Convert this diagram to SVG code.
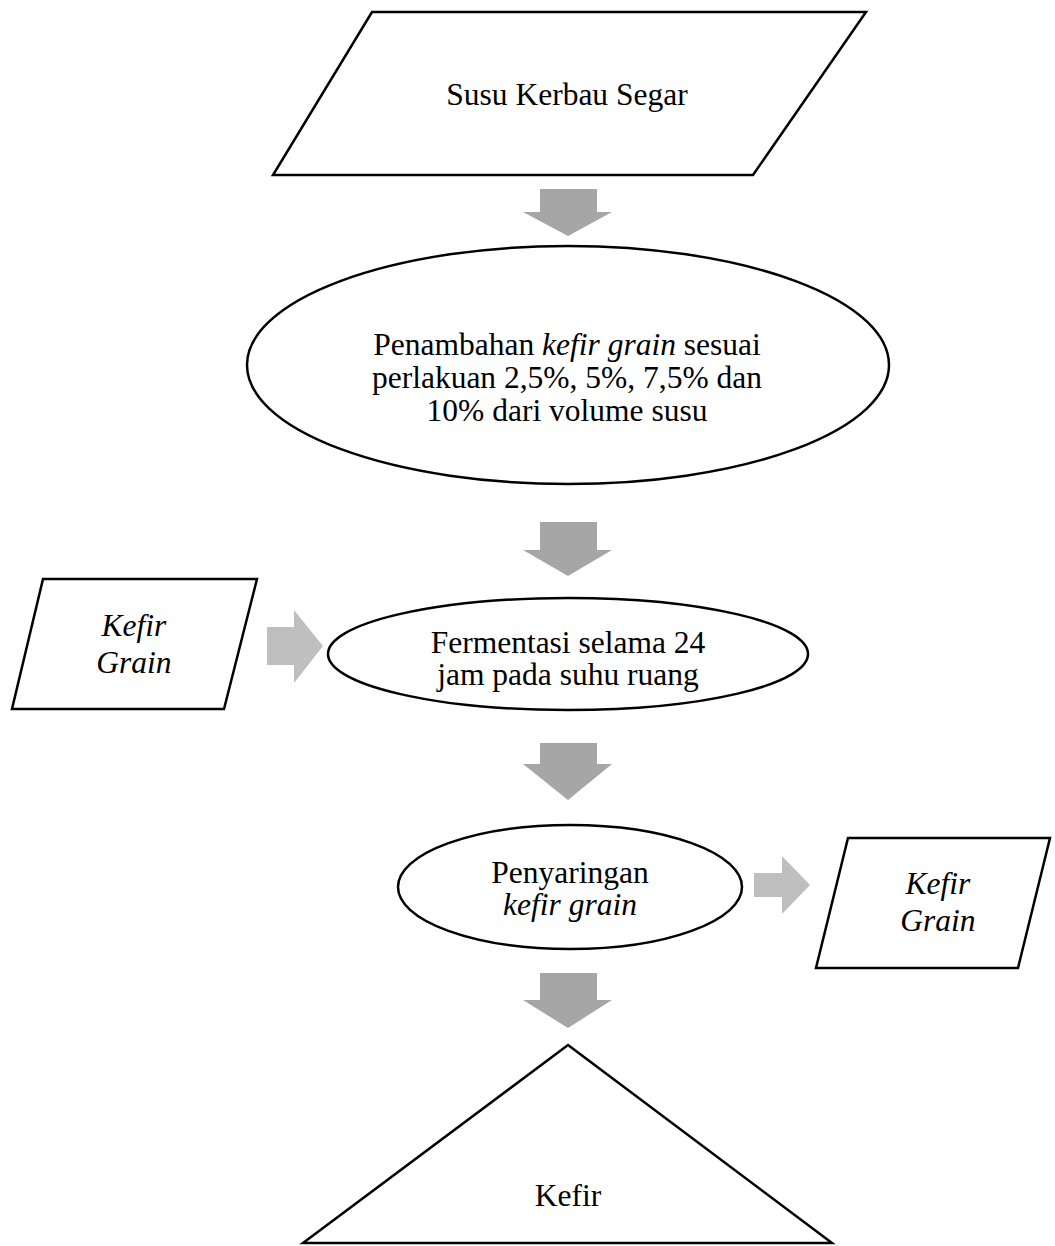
<svg xmlns="http://www.w3.org/2000/svg" width="1055" height="1246" viewBox="0 0 1055 1246">
<style>
.shape{fill:#fff;stroke:#000;stroke-width:2.5}
.t{font-family:"Liberation Serif","Times New Roman",serif;font-size:31.5px;fill:#000;text-anchor:middle}
.i{font-style:italic}
.dark{fill:#a6a6a6}
.light{fill:#bfbfbf}
</style>
<rect width="1055" height="1246" fill="#fff"/>
<g id="connectors">
<polygon class="dark" points="540,189 597,189 597,212 612,212 568,236 523,212 540,212"/>
<polygon class="dark" points="540,522 597,522 597,550 612,550 568,576 523,550 540,550"/>
<polygon class="dark" points="540,743 597,743 597,764 612,764 568,800 523,764 540,764"/>
<polygon class="dark" points="540,973 597,973 597,1000 612,1000 568,1028 523,1000 540,1000"/>
<polygon class="light" points="267,627 294,627 294,610 323,646 294,683 294,665 267,665"/>
<polygon class="light" points="754,873 782,873 782,856 810,885 782,914 782,897 754,897"/>
</g>
<g id="node-susu">
<polygon class="shape" points="372,12 866,12 753,175 273,175"/>
<text class="t" x="567" y="105">Susu Kerbau Segar</text>
</g>
<g id="node-penambahan">
<ellipse class="shape" cx="568" cy="365" rx="321" ry="119"/>
<text class="t" x="567" y="355">Penambahan <tspan class="i">kefir grain</tspan> sesuai</text>
<text class="t" x="567" y="388">perlakuan 2,5%, 5%, 7,5% dan</text>
<text class="t" x="567" y="421">10% dari volume susu</text>
</g>
<g id="node-kefir-grain-in">
<polygon class="shape" points="43,579 257,579 224,709 12,709"/>
<text class="t i" x="134" y="636">Kefir</text>
<text class="t i" x="134" y="673">Grain</text>
</g>
<g id="node-fermentasi">
<ellipse class="shape" cx="568" cy="654" rx="240" ry="56"/>
<text class="t" x="568" y="653">Fermentasi selama 24</text>
<text class="t" x="568" y="685">jam pada suhu ruang</text>
</g>
<g id="node-penyaringan">
<ellipse class="shape" cx="570" cy="887" rx="172" ry="62"/>
<text class="t" x="570" y="883">Penyaringan</text>
<text class="t i" x="570" y="915">kefir grain</text>
</g>
<g id="node-kefir-grain-out">
<polygon class="shape" points="848,838 1050,838 1018,968 816,968"/>
<text class="t i" x="938" y="894">Kefir</text>
<text class="t i" x="938" y="931">Grain</text>
</g>
<g id="node-kefir">
<polygon class="shape" points="568,1045 832,1243 303,1243"/>
<text class="t" x="568" y="1206">Kefir</text>
</g>
</svg>
